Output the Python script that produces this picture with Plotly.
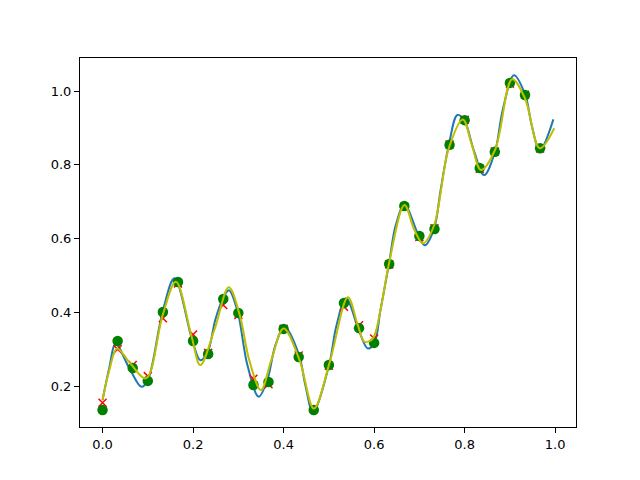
import plotly.graph_objects as go

# sample positions (i/30)
sample_x = [i / 30 for i in range(30)]
green_y = [0.135, 0.322, 0.249, 0.214, 0.401, 0.482, 0.322, 0.287, 0.436, 0.398,
           0.203, 0.211, 0.355, 0.279, 0.135, 0.257, 0.425, 0.357, 0.317, 0.531,
           0.688, 0.607, 0.626, 0.854, 0.921, 0.791, 0.835, 1.022, 0.989, 0.845]
red_y = [0.155, 0.300, 0.257, 0.227, 0.384, 0.478, 0.340, 0.290, 0.420, 0.393,
         0.220, 0.205, 0.355, 0.283, 0.138, 0.255, 0.415, 0.365, 0.329, 0.530,
         0.686, 0.604, 0.628, 0.855, 0.922, 0.789, 0.836, 1.020, 0.990, 0.844]

blue_x = [0.000, 0.015, 0.029, 0.059, 0.086, 0.100, 0.133, 0.159, 0.198, 0.216,
          0.232, 0.249, 0.265, 0.279, 0.298, 0.320, 0.345, 0.364, 0.382, 0.402,
          0.434, 0.448, 0.465, 0.500, 0.517, 0.538, 0.566, 0.586, 0.600, 0.614,
          0.633, 0.648, 0.667, 0.699, 0.712, 0.732, 0.747, 0.765, 0.784, 0.799,
          0.820, 0.843, 0.867, 0.884, 0.909, 0.934, 0.948, 0.966, 0.996]
blue_y = [0.162, 0.250, 0.314, 0.249, 0.198, 0.216, 0.403, 0.492, 0.325, 0.270,
          0.291, 0.379, 0.435, 0.460, 0.404, 0.257, 0.171, 0.217, 0.311, 0.361,
          0.285, 0.203, 0.130, 0.255, 0.365, 0.438, 0.352, 0.302, 0.315, 0.406,
          0.533, 0.637, 0.691, 0.606, 0.582, 0.625, 0.732, 0.854, 0.935, 0.921,
          0.840, 0.772, 0.835, 0.948, 1.043, 0.989, 0.908, 0.840, 0.923]

yellow_x = [0.000, 0.015, 0.032, 0.059, 0.096, 0.133, 0.162, 0.196, 0.216, 0.247,
            0.279, 0.303, 0.324, 0.350, 0.373, 0.400, 0.435, 0.467, 0.502, 0.542,
            0.564, 0.579, 0.597, 0.614, 0.633, 0.667, 0.689, 0.708, 0.732, 0.765,
            0.796, 0.816, 0.836, 0.867, 0.905, 0.933, 0.966, 0.998]
yellow_y = [0.162, 0.243, 0.302, 0.265, 0.221, 0.393, 0.483, 0.338, 0.257, 0.352,
            0.468, 0.393, 0.271, 0.189, 0.271, 0.356, 0.271, 0.139, 0.265, 0.441,
            0.365, 0.320, 0.329, 0.406, 0.533, 0.691, 0.623, 0.587, 0.634, 0.845,
            0.923, 0.854, 0.786, 0.840, 1.032, 0.981, 0.845, 0.899]

xticks = [0.0, 0.2, 0.4, 0.6, 0.8, 1.0]
yticks = [0.2, 0.4, 0.6, 0.8, 1.0]

fig = go.Figure()
fig.add_trace(go.Scatter(x=blue_x, y=blue_y, mode="lines",
                         line=dict(color="#1f77b4", width=2, shape="spline", smoothing=1.0)))
fig.add_trace(go.Scatter(x=sample_x, y=red_y, mode="markers",
                         marker=dict(symbol="x-thin", size=8, line=dict(color="#ff0000", width=1.5))))
fig.add_trace(go.Scatter(x=sample_x, y=green_y, mode="markers",
                         marker=dict(symbol="circle", size=10.5, color="#008000")))
fig.add_trace(go.Scatter(x=yellow_x, y=yellow_y, mode="lines",
                         line=dict(color="#bfbf00", width=2, shape="spline", smoothing=1.0)))

axis_common = dict(showgrid=False, zeroline=False, showline=True, linecolor="black",
                   linewidth=1, mirror=True, ticks="outside", ticklen=5, tickwidth=1,
                   tickcolor="black", tickfont=dict(family="DejaVu Sans", size=13, color="black"))
# page body has an 8px default margin, so the figure is sized to fit inside it
fig.update_layout(
    width=624, height=464,
    margin=dict(l=72, r=56, t=50, b=45),
    paper_bgcolor="white", plot_bgcolor="white",
    showlegend=False,
    xaxis=dict(range=[-0.0498, 1.046], tickvals=xticks, tickformat=".1f", **axis_common),
    yaxis=dict(range=[0.089, 1.0895], tickvals=yticks, tickformat=".1f", **axis_common),
)
fig.write_html("out.html")
